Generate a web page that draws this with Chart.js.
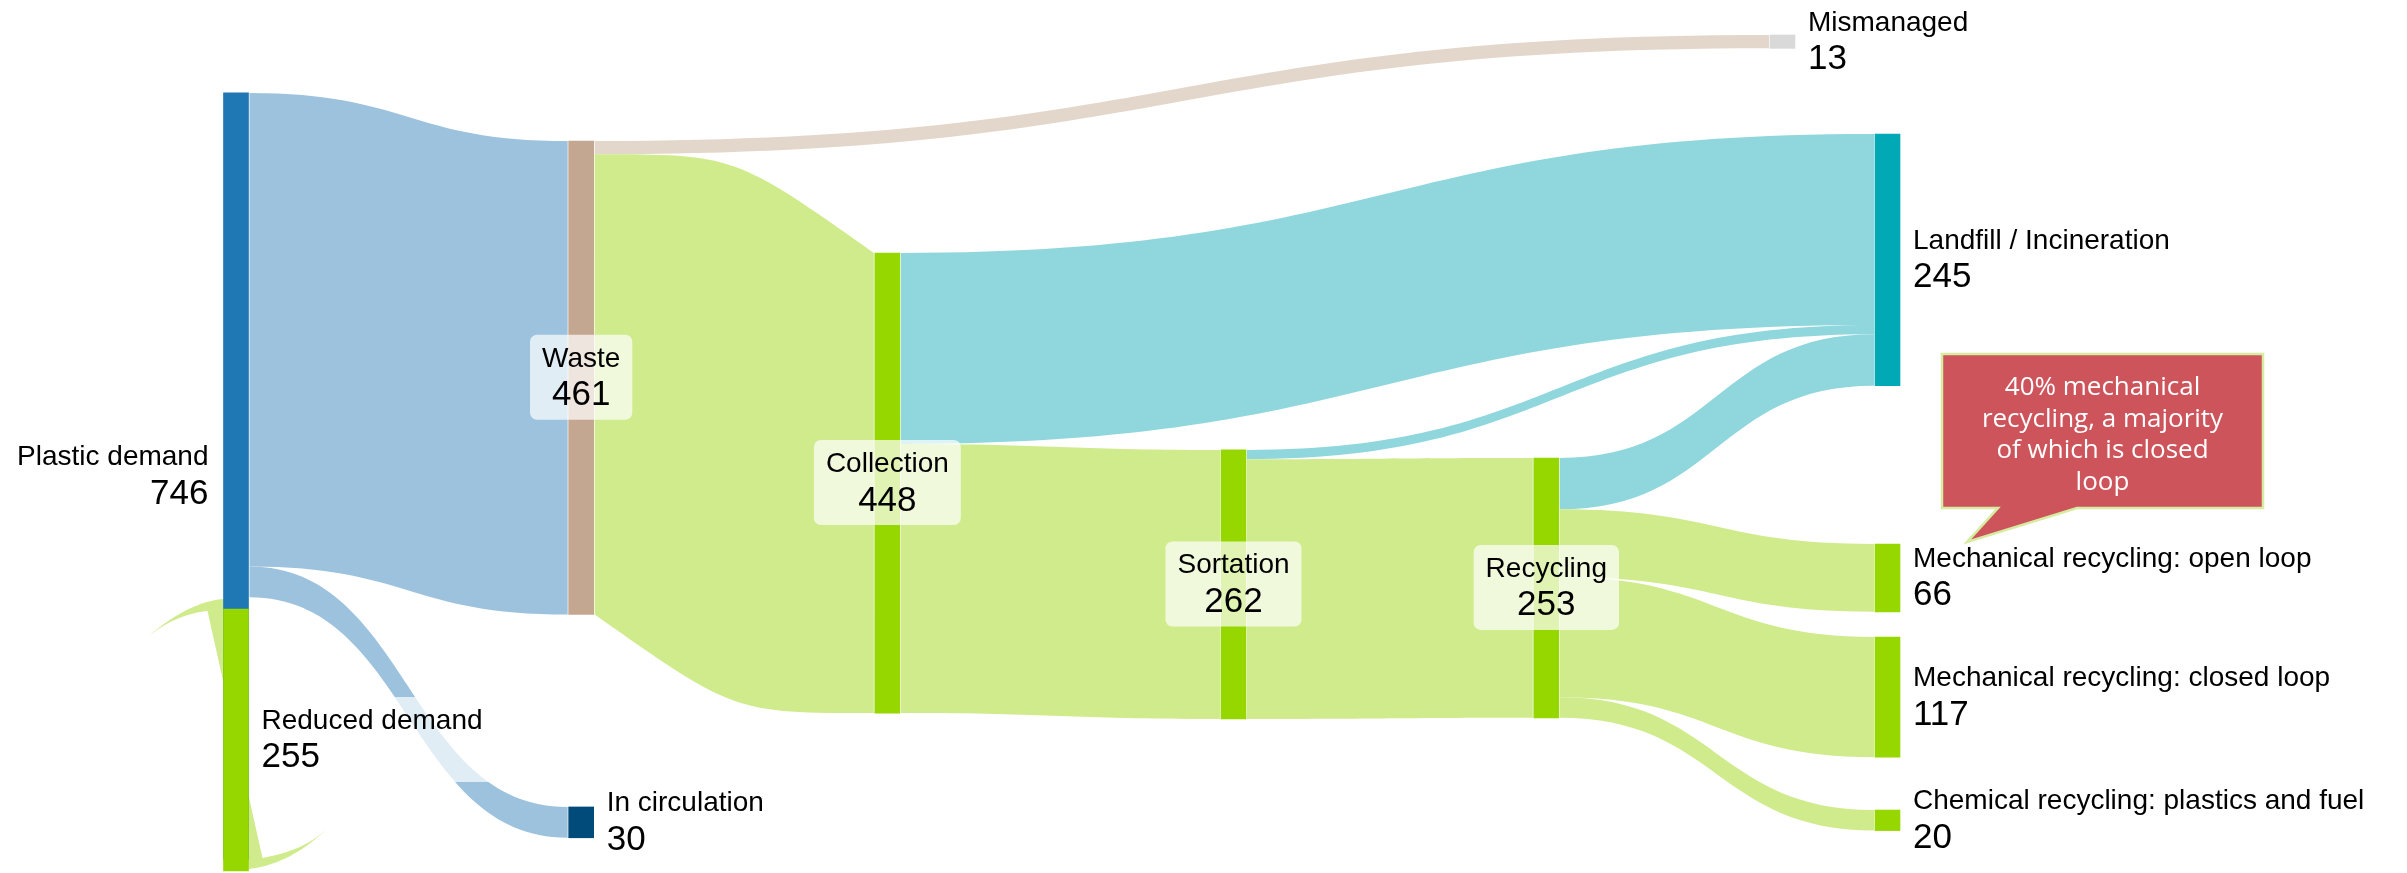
<!DOCTYPE html>
<html>
<head>
<meta charset="utf-8">
<title>Plastic flows</title>
<script src="https://cdn.jsdelivr.net/npm/chart.js@4.4.1/dist/chart.umd.min.js"></script>
<style>
  html, body { margin: 0; padding: 0; background: #fff; }
  #wrap { width: 2407px; height: 873px; }
</style>
</head>
<body>
<div id="wrap"><canvas id="flowChart" width="2407" height="873"></canvas></div>
<script>
// nodes
const nodeNames = [
  'Plastic demand', 'Reduced demand', 'Waste', 'In circulation', 'Mismanaged',
  'Collection', 'Sortation', 'Recycling', 'Landfill / Incineration',
  'Mechanical recycling: open loop', 'Mechanical recycling: closed loop',
  'Chemical recycling: plastics and fuel'
];
const nodeValues = [746, 255, 461, 30, 13, 448, 262, 253, 245, 66, 117, 20];
const nodeColors = [
  '#1f77b4', '#97d700', '#c4a790', '#004b7a', '#d9d9d9',
  '#97d700', '#97d700', '#97d700', '#00a9b5',
  '#97d700', '#97d700', '#97d700'
];

// flows between nodes
const linkSources = [
  'Plastic demand', 'Plastic demand', 'Waste', 'Waste', 'Collection', 'Collection',
  'Sortation', 'Sortation', 'Recycling', 'Recycling', 'Recycling', 'Recycling'
];
const linkTargets = [
  'Waste', 'In circulation', 'Mismanaged', 'Collection', 'Landfill / Incineration', 'Sortation',
  'Landfill / Incineration', 'Recycling', 'Landfill / Incineration',
  'Mechanical recycling: open loop', 'Mechanical recycling: closed loop',
  'Chemical recycling: plastics and fuel'
];
const linkValues = [461, 30, 13, 448, 186, 262, 9, 253, 50, 66, 117, 20];
const linkColors = [
  '#9cc2dd', '#9cc2dd', '#e3d7cc', '#cfeb8c', '#8fd7dd', '#cfeb8c',
  '#8fd7dd', '#cfeb8c', '#8fd7dd', '#cfeb8c', '#cfeb8c', '#cfeb8c'
];
// 's' = usual s-shaped ribbon, 'bulge' = edges bend at one end only
const linkCurves = ['s', 's', 's', 'bulge', 's', 's', 's', 's', 's', 's', 's', 's'];

// reduced demand feeds back into plastic demand
const loopSource = 'Reduced demand';
const loopValue = 255;
const loopColor = '#cfeb8c';

// layout: column of each node and its top edge in flow units
const nodeColumns = [0, 0, 1.045, 1.045, 4.682, 1.972, 3.02, 3.967, 5, 5, 5, 5];
const nodeTops = [90.5, 593, 137.3, 785.7, 34.1, 246.3, 438.1, 445.9, 130.5, 529.7, 620.2, 788.7];
const labelSides = ['left', 'right', 'center', 'right', 'right', 'center', 'center', 'center',
  'right', 'right', 'right', 'right'];

const calloutNode = 'Mechanical recycling: open loop';
const calloutLines = ['40% mechanical', 'recycling, a majority', 'of which is closed', 'loop'];

const NODE_WIDTH = 25;
const NAME_FONT = '28px "Liberation Sans", Arial, sans-serif';
const VALUE_FONT = '35px "Liberation Sans", Arial, sans-serif';

const idx = name => nodeNames.indexOf(name);

function nodeBox(chart, i) {
  const cx = chart.scales.x.getPixelForValue(nodeColumns[i]);
  const ys = chart.scales.y;
  return {
    x0: cx - NODE_WIDTH / 2,
    x1: cx + NODE_WIDTH / 2,
    y0: ys.getPixelForValue(nodeTops[i]),
    y1: ys.getPixelForValue(nodeTops[i] + nodeValues[i])
  };
}

function ribbon(ctx, x0, x1, s0, s1, t0, t1, curve) {
  const xm = (x0 + x1) / 2;
  ctx.beginPath();
  ctx.moveTo(x0, s0);
  if (curve === 'bulge') {
    ctx.bezierCurveTo(xm, s0, xm, s0, x1, t0);
    ctx.lineTo(x1, t1);
    ctx.bezierCurveTo(xm, t1, xm, t1, x0, s1);
  } else {
    ctx.bezierCurveTo(xm, s0, xm, t0, x1, t0);
    ctx.lineTo(x1, t1);
    ctx.bezierCurveTo(xm, t1, xm, s1, x0, s1);
  }
  ctx.closePath();
  ctx.fill();
}

// the feedback link folds over its own node
function drawLoop(ctx, b) {
  const L = b.x0, R = b.x1, T = b.y0, B = b.y1;
  ctx.beginPath();
  ctx.moveTo(L, T - 10);
  ctx.bezierCurveTo(L - 30, T - 8, L - 60, T + 14, L - 77, T + 29);
  ctx.bezierCurveTo(L - 55, T + 10, L - 30, T + 3, L - 16, T + 2);
  ctx.lineTo(R + 14, B - 13);
  ctx.bezierCurveTo(R + 40, B - 18, R + 60, B - 25, R + 78, B - 42);
  ctx.bezierCurveTo(R + 58, B - 22, R + 30, B - 5, R, B - 2);
  ctx.closePath();
  ctx.fill();
}

function roundRect(ctx, x, y, w, h, r) {
  ctx.beginPath();
  ctx.moveTo(x + r, y);
  ctx.arcTo(x + w, y, x + w, y + h, r);
  ctx.arcTo(x + w, y + h, x, y + h, r);
  ctx.arcTo(x, y + h, x, y, r);
  ctx.arcTo(x, y, x + w, y, r);
  ctx.closePath();
}

function drawLabel(ctx, i, b) {
  const name = nodeNames[i];
  const value = String(nodeValues[i]);
  const cy = (b.y0 + b.y1) / 2;
  ctx.font = NAME_FONT;
  const wName = ctx.measureText(name).width;
  ctx.font = VALUE_FONT;
  const wVal = ctx.measureText(value).width;
  const w = Math.max(wName, wVal);
  let tx, bx;
  if (labelSides[i] === 'center') {
    tx = (b.x0 + b.x1) / 2;
    ctx.textAlign = 'center';
    bx = tx - w / 2 - 12;
  } else if (labelSides[i] === 'right') {
    tx = b.x1 + 13;
    ctx.textAlign = 'left';
    bx = tx - 12;
  } else {
    tx = b.x0 - 15;
    ctx.textAlign = 'right';
    bx = tx - w - 12;
  }
  ctx.fillStyle = 'rgba(255,255,255,0.7)';
  roundRect(ctx, bx, cy - 43, w + 24, 85, 7);
  ctx.fill();

  ctx.fillStyle = '#000';
  ctx.textBaseline = 'alphabetic';
  ctx.font = NAME_FONT;
  ctx.fillText(name, tx, cy - 11);
  ctx.font = VALUE_FONT;
  ctx.fillText(value, tx, cy + 27.5);
}

function drawCallout(ctx, b) {
  const tipX = b.x1 + 67, tipY = b.y0 - 2;
  const l = tipX - 25, r = tipX + 296, t = tipY - 188, btm = tipY - 34;
  ctx.beginPath();
  ctx.moveTo(l, t);
  ctx.lineTo(r, t);
  ctx.lineTo(r, btm);
  ctx.lineTo(tipX + 110, btm);
  ctx.lineTo(tipX, tipY);
  ctx.lineTo(tipX + 31, btm);
  ctx.lineTo(l, btm);
  ctx.closePath();
  ctx.fillStyle = '#cd545b';
  ctx.fill();
  ctx.lineWidth = 2.5;
  ctx.strokeStyle = '#d5eca1';
  ctx.stroke();

  ctx.fillStyle = '#fff';
  ctx.font = '26px "Open Sans", sans-serif';
  ctx.textAlign = 'center';
  ctx.textBaseline = 'alphabetic';
  const cx = (l + r) / 2;
  calloutLines.forEach((line, k) => {
    ctx.fillText(line, cx, tipY - 147 + k * 31.7);
  });
}

const sankeyPlugin = {
  id: 'sankeyFlows',
  beforeDatasetsDraw(chart) {
    const ctx = chart.ctx;
    const outUsed = nodeNames.map(() => 0);
    const inUsed = nodeNames.map(() => 0);
    const ys = chart.scales.y;
    ctx.save();
    linkValues.forEach((v, k) => {
      const s = idx(linkSources[k]);
      const t = idx(linkTargets[k]);
      const sb = nodeBox(chart, s);
      const tb = nodeBox(chart, t);
      const s0 = ys.getPixelForValue(nodeTops[s] + outUsed[s]);
      const s1 = ys.getPixelForValue(nodeTops[s] + outUsed[s] + v);
      const t0 = ys.getPixelForValue(nodeTops[t] + inUsed[t]);
      const t1 = ys.getPixelForValue(nodeTops[t] + inUsed[t] + v);
      outUsed[s] += v;
      inUsed[t] += v;
      ctx.fillStyle = linkColors[k];
      ribbon(ctx, sb.x1 + 1, tb.x0 - 1, s0, s1, t0, t1, linkCurves[k]);
    });
    ctx.fillStyle = loopColor;
    drawLoop(ctx, nodeBox(chart, idx(loopSource)));
    ctx.restore();
  },
  afterDatasetsDraw(chart) {
    const ctx = chart.ctx;
    ctx.save();
    nodeNames.forEach((n, i) => drawLabel(ctx, i, nodeBox(chart, i)));
    drawCallout(ctx, nodeBox(chart, idx(calloutNode)));
    ctx.restore();
  }
};

new Chart(document.getElementById('flowChart'), {
  type: 'bar',
  data: {
    datasets: [{
      data: nodeNames.map((n, i) => ({ x: nodeColumns[i], y: [nodeTops[i], nodeTops[i] + nodeValues[i]] })),
      backgroundColor: nodeColors,
      borderWidth: 0,
      barThickness: NODE_WIDTH,
      clip: false
    }]
  },
  options: {
    responsive: false,
    animation: false,
    devicePixelRatio: 1,
    layout: { padding: { left: 236, right: 519.5, top: 0, bottom: 0 } },
    scales: {
      x: { type: 'linear', min: 0, max: 5, offset: false, display: false },
      y: { min: 0, max: 850, reverse: true, display: false }
    },
    plugins: {
      legend: { display: false },
      tooltip: { enabled: false }
    }
  },
  plugins: [sankeyPlugin]
});
</script>
</body>
</html>
